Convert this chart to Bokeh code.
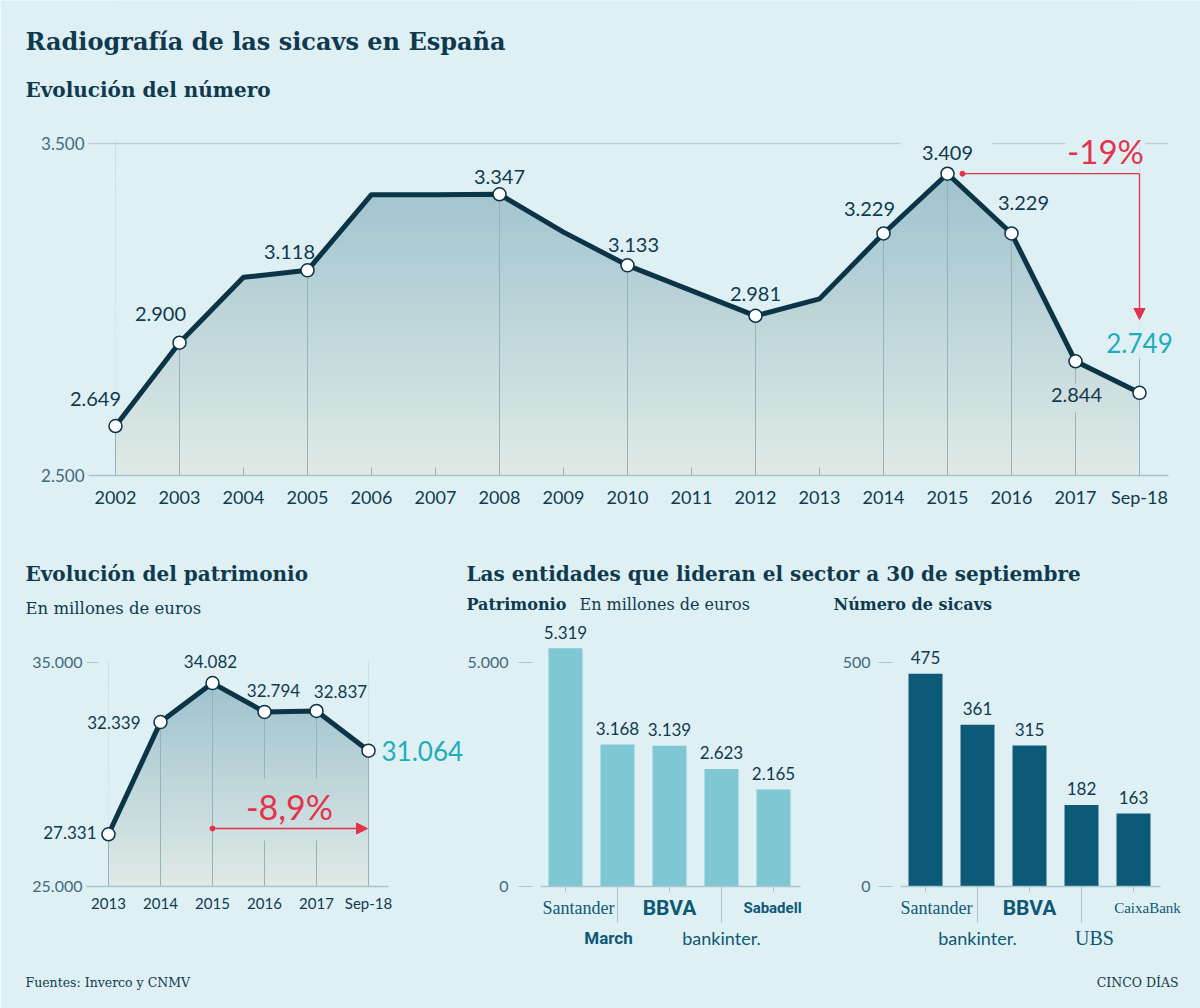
import numpy as np
from bokeh.plotting import figure
from bokeh.models import Range1d, FixedTicker, Label, Arrow, NormalHead, LinearAxis
from bokeh.embed import file_html
from bokeh.resources import INLINE

# ---------------- data ----------------
years_num = ["2002", "2003", "2004", "2005", "2006", "2007", "2008", "2009", "2010",
             "2011", "2012", "2013", "2014", "2015", "2016", "2017", "Sep-18"]
sicavs_num = [2649, 2900, 3097, 3118, 3346, 3346, 3347, 3233, 3133,
              3057, 2981, 3032, 3229, 3409, 3229, 2844, 2749]
num_labeled = [0, 1, 3, 6, 8, 10, 12, 13, 14, 15, 16]
num_ticks = [2500, 3500]
change_num = "-19%"

years_pat = ["2013", "2014", "2015", "2016", "2017", "Sep-18"]
patrimonio = [27331, 32339, 34082, 32794, 32837, 31064]
pat_ticks = [25000, 35000]
change_pat = "-8,9%"

entities_pat = ["Santander", "March", "BBVA", "bankinter.", "Sabadell"]
pat_entity_values = [5319, 3168, 3139, 2623, 2165]
pat_entity_ticks = [0, 5000]

entities_num = ["Santander", "bankinter.", "BBVA", "UBS", "CaixaBank"]
num_entity_values = [475, 361, 315, 182, 163]
num_entity_ticks = [0, 500]

# ---------------- style ----------------
W, H = 1200, 1008
BG = "#dff0f4"
DARK = "#0f3a4e"
NAVY = "#0b3447"
TICKC = "#3f6b7c"
AXIS = "#a9c4cc"
DROP = "#93b3bc"
GRID = "#b7cfd6"
RED = "#e3334c"
TEAL = "#1fadb9"
BAR_L = "#7fc8d3"
BAR_D = "#0c5a78"
LOGO = "#0e5874"
NUM = "Lato"
SERIF = "DejaVu Serif"


def fmt(v):
    return f"{v:,}".replace(",", ".")


p = figure(width=W, height=H, x_range=Range1d(0, W), y_range=Range1d(H, 0),
           x_axis_type=None, y_axis_type=None, title=None,
           output_backend="svg", toolbar_location=None, min_border=0)
p.background_fill_color = BG
p.border_fill_color = BG
p.outline_line_color = None
p.grid.visible = False


class Panel:
    """A sub-chart: its own data ranges mapped onto the page."""

    def __init__(self, name, x0px, pxu_x, y0px, yv0, pxu_y):
        self.xn, self.yn = name + "_x", name + "_y"
        self.x0px, self.pxu_x, self.y0px, self.yv0, self.pxu_y = x0px, pxu_x, y0px, yv0, pxu_y
        p.extra_x_ranges[self.xn] = Range1d(self.fx(0), self.fx(W))
        p.extra_y_ranges[self.yn] = Range1d(self.fy(H), self.fy(0))

    def fx(self, px):
        return (px - self.x0px) / self.pxu_x

    def fy(self, py):
        return self.yv0 + (self.y0px - py) / self.pxu_y

    @property
    def kw(self):
        return dict(x_range_name=self.xn, y_range_name=self.yn)


def lerp_color(c0, c1, t):
    a = [int(c0[i:i + 2], 16) for i in (1, 3, 5)]
    b = [int(c1[i:i + 2], 16) for i in (1, 3, 5)]
    return "#%02x%02x%02x" % tuple(int(round(a[k] + (b[k] - a[k]) * t)) for k in range(3))


def gradient(pn, x_left, x_right, y_low, y_high, nb=60):
    edges = np.linspace(y_low, y_high, nb + 1)
    ov = (y_high - y_low) / nb * 0.6
    cols = [lerp_color("#e0eae6", "#98becb", (i + 0.5) / nb) for i in range(nb)]
    p.quad(left=[x_left] * nb, right=[x_right] * nb, bottom=edges[:-1],
           top=edges[1:] + ov, fill_color=cols, line_color=None, **pn.kw)


def lab(x, y, text, size, color=DARK, font=NUM, style="normal",
        align="center", baseline="middle", pn=None, **kw):
    extra = pn.kw if pn is not None else {}
    p.add_layout(Label(x=x, y=y, text=text, text_font=font, text_font_size=size,
                       text_font_style=style, text_color=color, text_align=align,
                       text_baseline=baseline, **extra, **kw))


def axis(pn, side, fixed, ticks, overrides, font_size, color, bounds=None, minor=None, **props):
    tk = FixedTicker(ticks=ticks, minor_ticks=minor or [])
    ax = LinearAxis(fixed_location=fixed, ticker=tk, major_label_overrides=overrides,
                    major_label_text_font=NUM, major_label_text_font_size=font_size,
                    major_label_text_color=color, **pn.kw, **props)
    if bounds is not None:
        ax.bounds = bounds
    p.add_layout(ax, side)
    return ax


# ---------------- headers ----------------
def head(x, y, text, size, style="bold", align="left"):
    lab(x, y, text, size, font=SERIF, style=style, align=align, baseline="middle")


head(25, 41, "Radiografía de las sicavs en España", "24px")
head(25, 89, "Evolución del número", "20px")
head(25, 573, "Evolución del patrimonio", "20px")
head(25, 608, "En millones de euros", "16.5px", style="normal")
head(466, 573, "Las entidades que lideran el sector a 30 de septiembre", "20px")
head(466, 604, "Patrimonio", "16px")
head(579, 604, "En millones de euros", "16px", style="normal")
head(833, 604, "Número de sicavs", "16px")
head(25, 982, "Fuentes: Inverco y CNMV", "12.5px", style="normal")
head(1178, 982, "CINCO DÍAS", "12.5px", style="normal", align="right")

# ================= TOP: evolución del número =================
T = Panel("top", 115, 64, 475, 2500, 0.332)
n1 = len(sicavs_num)
idx1 = list(range(n1))
gradient(T, 0, n1 - 1, 2500, 3500)
p.varea(x=idx1, y1=sicavs_num, y2=[T.fy(0)] * n1, fill_color=BG, **T.kw)

# gridline at 3.500 with gaps for the labels
g_x0 = [T.fx(88), T.fx(992), T.fx(1145)]
g_x1 = [T.fx(900), T.fx(1065), T.fx(1168)]
p.segment(x0=g_x0, y0=[num_ticks[1]] * 3, x1=g_x1, y1=[num_ticks[1]] * 3,
          line_color=GRID, line_width=1.5, **T.kw)

x0s, y0s, x1s, y1s = [], [], [], []
for i in num_labeled:
    v = sicavs_num[i]
    if i == 15:
        x0s += [i, i]; y0s += [v, T.fy(412)]; x1s += [i, i]; y1s += [T.fy(383), 2500]
    elif i == 16:
        x0s.append(i); y0s.append(T.fy(358)); x1s.append(i); y1s.append(2500)
    else:
        x0s.append(i); y0s.append(v); x1s.append(i); y1s.append(2500)
p.segment(x0=x0s, y0=y0s, x1=x1s, y1=y1s, line_color=DROP, line_width=1, **T.kw)

p.line(idx1, sicavs_num, line_width=5, line_color=NAVY, line_join="round", **T.kw)
p.scatter(num_labeled, [sicavs_num[i] for i in num_labeled], size=13,
          fill_color="white", line_color=NAVY, line_width=1.5, **T.kw)

offs1 = {0: (-20, -27), 1: (-19, -29), 3: (-18, -18), 6: (0, -17), 8: (6, -20),
         10: (0, -22), 12: (-14, -24), 13: (0, -21), 14: (12, -30), 15: (1, 34), 16: (0, -50)}
for i in num_labeled:
    dx, dy = offs1[i]
    v = sicavs_num[i]
    if i == n1 - 1:
        lab(i + dx / 64, v - dy / 0.332, fmt(v), "26px", color=TEAL, pn=T)
    else:
        lab(i + dx / 64, v - dy / 0.332, fmt(v), "20px", pn=T)

peak = int(np.argmax(sicavs_num))
p.segment(x0=[peak + 15 / 64], y0=[sicavs_num[peak]], x1=[n1 - 1], y1=[sicavs_num[peak]],
          line_color=RED, line_width=1.3, **T.kw)
p.scatter([peak + 15 / 64], [sicavs_num[peak]], size=5, fill_color=RED, line_color=RED, **T.kw)
p.add_layout(Arrow(x_start=n1 - 1, y_start=sicavs_num[peak], x_end=n1 - 1, y_end=T.fy(319),
                   line_color=RED, line_width=1.3,
                   end=NormalHead(size=11, fill_color=RED, line_color=RED), **T.kw))
lab(T.fx(1105), T.fy(150), change_num, "33px", color=RED, pn=T)

axis(T, "left", T.fx(88), num_ticks, {t: fmt(t) for t in num_ticks}, "17px", TICKC,
     axis_line_color=None, major_tick_in=0, major_tick_out=0, major_label_standoff=4)
axis(T, "below", 2500, idx1, {i: y for i, y in enumerate(years_num)}, "18px", DARK,
     bounds=(T.fx(88), T.fx(1168)), axis_line_color=AXIS, axis_line_width=1.5,
     major_tick_in=8, major_tick_out=0, major_tick_line_color=DROP, major_label_standoff=10)

# ================= BOTTOM LEFT: patrimonio =================
L = Panel("bl", 108, 52, 886, 25000, 0.0224)
n2 = len(patrimonio)
idx2 = list(range(n2))
gradient(L, 0, n2 - 1, 25000, 35000)
p.varea(x=idx2, y1=patrimonio, y2=[L.fy(640)] * n2, fill_color=BG, **L.kw)

x0s, y0s, x1s, y1s = [], [], [], []
for i, v in enumerate(patrimonio):
    if i in (3, 4):
        x0s += [i, i]; y0s += [v, L.fy(840)]; x1s += [i, i]; y1s += [L.fy(778), 25000]
    else:
        x0s.append(i); y0s.append(v); x1s.append(i); y1s.append(25000)
p.segment(x0=x0s, y0=y0s, x1=x1s, y1=y1s, line_color=DROP, line_width=1, **L.kw)
p.line(idx2, patrimonio, line_width=5, line_color=NAVY, line_join="round", **L.kw)
p.scatter(idx2, patrimonio, size=13, fill_color="white", line_color=NAVY, line_width=1.5, **L.kw)

offs2 = {0: (-12, -2, "right"), 1: (-20, 0, "right"), 2: (-2, -22, "center"),
         3: (9, -21, "center"), 4: (24, -19, "center"), 5: (13, 0, "left")}
for i, v in enumerate(patrimonio):
    dx, dy, al = offs2[i]
    if i == n2 - 1:
        lab(i + dx / 52, v - dy / 0.0224, fmt(v), "26px", color=TEAL, align=al, pn=L)
    else:
        lab(i + dx / 52, v - dy / 0.0224, fmt(v), "17px", align=al, pn=L)

pk2 = int(np.argmax(patrimonio))
p.scatter([pk2], [L.fy(828)], size=5, fill_color=RED, line_color=RED, **L.kw)
p.add_layout(Arrow(x_start=pk2, y_start=L.fy(828), x_end=L.fx(367), y_end=L.fy(828),
                   line_color=RED, line_width=1.3,
                   end=NormalHead(size=11, fill_color=RED, line_color=RED), **L.kw))
lab(L.fx(289), L.fy(806), change_pat, "34px", color=RED, pn=L)

axis(L, "left", L.fx(86), pat_ticks, {t: fmt(t) for t in pat_ticks}, "16px", TICKC,
     axis_line_color=None, major_tick_in=12, major_tick_out=0, major_tick_line_color=AXIS,
     major_label_standoff=4)
axis(L, "below", 25000, idx2, {i: y for i, y in enumerate(years_pat)}, "15px", DARK,
     bounds=(L.fx(86), L.fx(388)), axis_line_color=AXIS, axis_line_width=1.5,
     major_tick_in=0, major_tick_out=0, major_label_standoff=7)

# ================= BAR CHARTS =================
LOGO_STYLE = {
    "Santander": ("Liberation Serif", "18px", "normal"),
    "March": ("Roboto", "17px", "bold"),
    "BBVA": ("Roboto", "21px", "bold"),
    "bankinter.": ("Lato", "18px", "normal"),
    "Sabadell": ("Roboto", "15px", "bold"),
    "UBS": ("Liberation Serif", "20px", "normal"),
    "CaixaBank": ("Liberation Serif", "15px", "normal"),
}


def bar_chart(name, x0px, scale, frame, ytick_x, ticks, names, vals, color, logo_dx, standoff):
    pn = Panel(name, x0px, 52, 886, 0, scale)
    ids = list(range(len(vals)))
    p.vbar(x=ids, top=vals, width=34 / 52, fill_color=color, line_color=None, **pn.kw)
    for i, v in enumerate(vals):
        lab(i, v + 16 / scale, fmt(v), "17px", pn=pn)
    axis(pn, "left", pn.fx(ytick_x), ticks, {t: fmt(t) for t in ticks}, "16px", TICKC,
         axis_line_color=None, major_tick_in=0, major_tick_out=14,
         major_tick_line_color=AXIS, major_label_standoff=standoff)
    axis(pn, "below", 0, [1, 3], {1: "", 3: ""}, "1px", DARK, minor=[0, 2, 4],
         bounds=(pn.fx(frame[0]), pn.fx(frame[1])), axis_line_color=AXIS, axis_line_width=1.5,
         major_tick_in=0, major_tick_out=36, major_tick_line_color=AXIS,
         minor_tick_in=0, minor_tick_out=5, minor_tick_line_color=AXIS)
    for i, nm in enumerate(names):
        f, s, st = LOGO_STYLE[nm]
        py = 907 if i % 2 == 0 else 937
        lab(i + logo_dx[i] / 52, pn.fy(py), nm, s, color=LOGO, font=f, style=st, pn=pn)
    return pn


bar_chart("mid", 565, 0.0448, (540, 800), 532, pat_entity_ticks, entities_pat,
          pat_entity_values, BAR_L, [13, -9, 0, 0, -1], 10)
bar_chart("right", 925, 0.448, (900, 1160), 892, num_entity_ticks, entities_num,
          num_entity_values, BAR_D, [11, 0, 0, 13, 14], 8)

open("out.html", "w").write(file_html(p, INLINE))
